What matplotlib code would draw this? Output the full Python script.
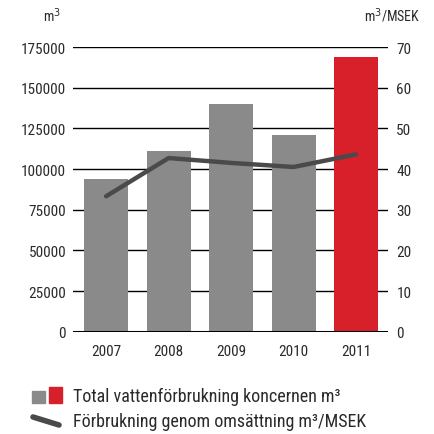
import matplotlib
matplotlib.use("Agg")
import matplotlib.pyplot as plt
from matplotlib import font_manager
from matplotlib.patches import Rectangle
from matplotlib.lines import Line2D

years = ["2007", "2008", "2009", "2010", "2011"]
total_water = [94000, 111000, 140000, 121000, 169000]
per_revenue = [33.3, 42.7, 41.5, 40.5, 43.6]
left_ticks = [0, 25000, 50000, 75000, 100000, 125000, 150000, 175000]
right_ticks = [0, 10, 20, 30, 40, 50, 60, 70]

GRAY = "#8a8a8a"
RED = "#d7202a"
LINE = "#4a4a4a"
TXT = "#2a2a2a"

# pick a condensed face if one is installed
names = {f.name for f in font_manager.fontManager.ttflist}
cond = [f for f in font_manager.fontManager.ttflist
        if ("Narrow" in f.name or "Condensed" in f.name or
            (isinstance(f.stretch, str) and "condensed" in f.stretch) or
            (isinstance(f.stretch, int) and f.stretch < 500))]
family = None
stretch = "normal"
for cand in ["Liberation Sans Narrow", "Roboto Condensed", "Open Sans Condensed", "Arial Narrow"]:
    if cand in names:
        family = cand
        break
if family is None and cond:
    family = cond[0].name
    stretch = cond[0].stretch
if family is None:
    family = "Liberation Sans"
plt.rcParams['font.family'] = [family, 'DejaVu Sans']
plt.rcParams['font.stretch'] = stretch

fig = plt.figure(figsize=(4.34, 4.35), dpi=100)
ax = fig.add_axes([73/434, 1 - 332.7/435, (388 - 73)/434, (332.7 - 48)/435])
x = list(range(len(years)))
colors = [GRAY] * (len(years) - 1) + [RED]

for t in left_ticks[1:]:
    ax.axhline(t, color="black", lw=1.0, zorder=0)
ax.axhline(0, color="black", lw=2.2, zorder=3)

ax.bar(x, total_water, width=0.70, color=colors, zorder=2)
ax.set_ylim(0, 175000)
ax.set_xlim(-0.53, 4.51)
ax.set_yticks(left_ticks)
ax.set_yticklabels([str(t) for t in left_ticks])
ax.set_xticks(x)
ax.set_xticklabels(years)
ax.tick_params(axis="both", length=0, labelsize=11, colors=TXT)
ax.tick_params(axis="y", pad=5)
ax.tick_params(axis="x", pad=9)
for s in ax.spines.values():
    s.set_visible(False)

ax2 = ax.twinx()
ax2.plot(x, per_revenue, color=LINE, lw=3.2, solid_capstyle="round", zorder=4)
ax2.set_ylim(0, 70)
ax2.set_yticks(right_ticks)
ax2.set_yticklabels([str(t) for t in right_ticks])
ax2.tick_params(axis="y", length=0, labelsize=11, colors=TXT, pad=6)
for s in ax2.spines.values():
    s.set_visible(False)

fig.text(52/434, 1 - 16/435, "m$^3$", ha="center", va="center", fontsize=10, color=TXT)
fig.text(392/434, 1 - 16/435, "m$^3$/MSEK", ha="center", va="center", fontsize=10, color=TXT)

# legend
fig.patches.append(Rectangle((32/434, 1 - 404/435), 13/434, 12/435, transform=fig.transFigure, color=GRAY))
fig.patches.append(Rectangle((49/434, 1 - 404/435), 13/434, 16/435, transform=fig.transFigure, color=RED))
fig.lines.append(Line2D([33/434, 59/434], [1 - 418/435, 1 - 426/435], transform=fig.transFigure,
                        color=LINE, lw=4, solid_capstyle="round"))
fig.text(73/434, 1 - 397/435, "Total vattenförbrukning koncernen m³", ha="left", va="center",
         fontsize=13, color=TXT)
fig.text(73/434, 1 - 422/435, "Förbrukning genom omsättning m³/MSEK", ha="left", va="center",
         fontsize=13, color=TXT)

fig.savefig("out.png", dpi=100)
